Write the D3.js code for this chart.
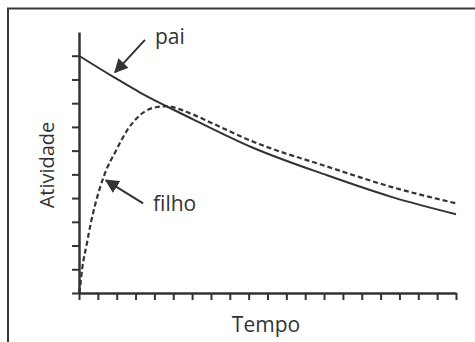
<!DOCTYPE html>
<html>
<head>
<meta charset="utf-8">
<title>Atividade pai / filho</title>
<script src="https://d3js.org/d3.v7.min.js"></script>
<style>
  body { margin: 0; background: #fff; }
  text { font-family: "Open Sans", sans-serif; fill: #333; }
</style>
</head>
<body>
<svg width="475" height="342"></svg>
<script>
// values (tempo in tick units, atividade in tick units)
var paiTempo   = [0, 1.8, 3.24, 4.67, 6.05, 9.23, 13.16, 16.66, 20];
var paiAtiv    = [10, 9.12, 8.45, 7.86, 7.32, 6.12, 4.96, 4.03, 3.32];

var filhoTempo = [0, 0.05, 0.16, 0.42, 0.64, 0.85, 1.33, 1.96, 2.55, 3.24, 4.14, 4.67, 5.36, 6, 7, 9.23, 13.16, 16.66, 20];
var filhoAtiv  = [0, 0.2, 0.97, 2.1, 3.0, 3.7, 4.95, 6.0, 6.85, 7.5, 7.84, 7.87, 7.74, 7.54, 7.18, 6.38, 5.33, 4.45, 3.78];

var xTicks = d3.range(0, 21);
var yTicks = d3.range(0, 11);

// labels + arrows, in data units
var labels = [
  {text: "pai",   t: 4.03, v: 10.5, tailT: 3.5,  tailV: 10.67, tipT: 1.91, tipV: 9.3},
  {text: "filho", t: 3.93, v: 3.45, tailT: 3.4,  tailV: 3.78,  tipT: 1.43, tipV: 4.75}
];

var svg = d3.select("svg");
var ink = "#333";

// outer frame (cropped at right/bottom in the original)
svg.append("rect")
    .attr("x", 8).attr("y", 8.5)
    .attr("width", 480).attr("height", 360)
    .attr("fill", "none")
    .attr("stroke", "#3a3a3a")
    .attr("stroke-width", 2);

var x = d3.scaleLinear().domain([0, 20]).range([79, 456]);
var y = d3.scaleLinear().domain([0, 11]).range([293, 32]);

svg.append("g")
    .attr("transform", "translate(0,293)")
    .call(d3.axisBottom(x).tickValues(xTicks).tickSize(7).tickSizeOuter(0).tickFormat(""))
    .call(function(g) {
      g.selectAll("path, line").attr("stroke", ink).attr("stroke-width", 2);
      g.select(".domain").attr("stroke-width", 2.5);
    });

svg.append("g")
    .attr("transform", "translate(79,0)")
    .call(d3.axisLeft(y).tickValues(yTicks).tickSize(7).tickSizeOuter(0).tickFormat(""))
    .call(function(g) {
      g.selectAll("path, line").attr("stroke", ink).attr("stroke-width", 2);
      g.select(".domain").attr("stroke-width", 2.5);
    });

var line = d3.line()
    .x(function(d) { return x(d[0]); })
    .y(function(d) { return y(d[1]); })
    .curve(d3.curveMonotoneX);

svg.append("path")
    .datum(d3.zip(paiTempo, paiAtiv))
    .attr("fill", "none")
    .attr("stroke", ink)
    .attr("stroke-width", 2)
    .attr("d", line);

svg.append("path")
    .datum(d3.zip(filhoTempo, filhoAtiv))
    .attr("fill", "none")
    .attr("stroke", ink)
    .attr("stroke-width", 2.2)
    .attr("stroke-dasharray", "5,3")
    .attr("d", line);

svg.append("defs").append("marker")
    .attr("id", "head")
    .attr("viewBox", "0 0 10 10")
    .attr("refX", 9).attr("refY", 5)
    .attr("markerWidth", 14).attr("markerHeight", 14)
    .attr("markerUnits", "userSpaceOnUse")
    .attr("orient", "auto")
  .append("path")
    .attr("d", "M0,0L10,5L0,10Z")
    .attr("fill", ink);

labels.forEach(function(l) {
  svg.append("line")
      .attr("x1", x(l.tailT)).attr("y1", y(l.tailV))
      .attr("x2", x(l.tipT)).attr("y2", y(l.tipV))
      .attr("stroke", ink)
      .attr("stroke-width", 2)
      .attr("marker-end", "url(#head)");
  svg.append("text")
      .attr("x", x(l.t)).attr("y", y(l.v))
      .attr("font-size", 21)
      .text(l.text);
});

svg.append("text")
    .attr("x", 266).attr("y", 332)
    .attr("text-anchor", "middle")
    .attr("font-size", 21)
    .text("Tempo");

svg.append("text")
    .attr("transform", "translate(54,165) rotate(-90)")
    .attr("text-anchor", "middle")
    .attr("font-size", 20)
    .text("Atividade");
</script>
</body>
</html>
